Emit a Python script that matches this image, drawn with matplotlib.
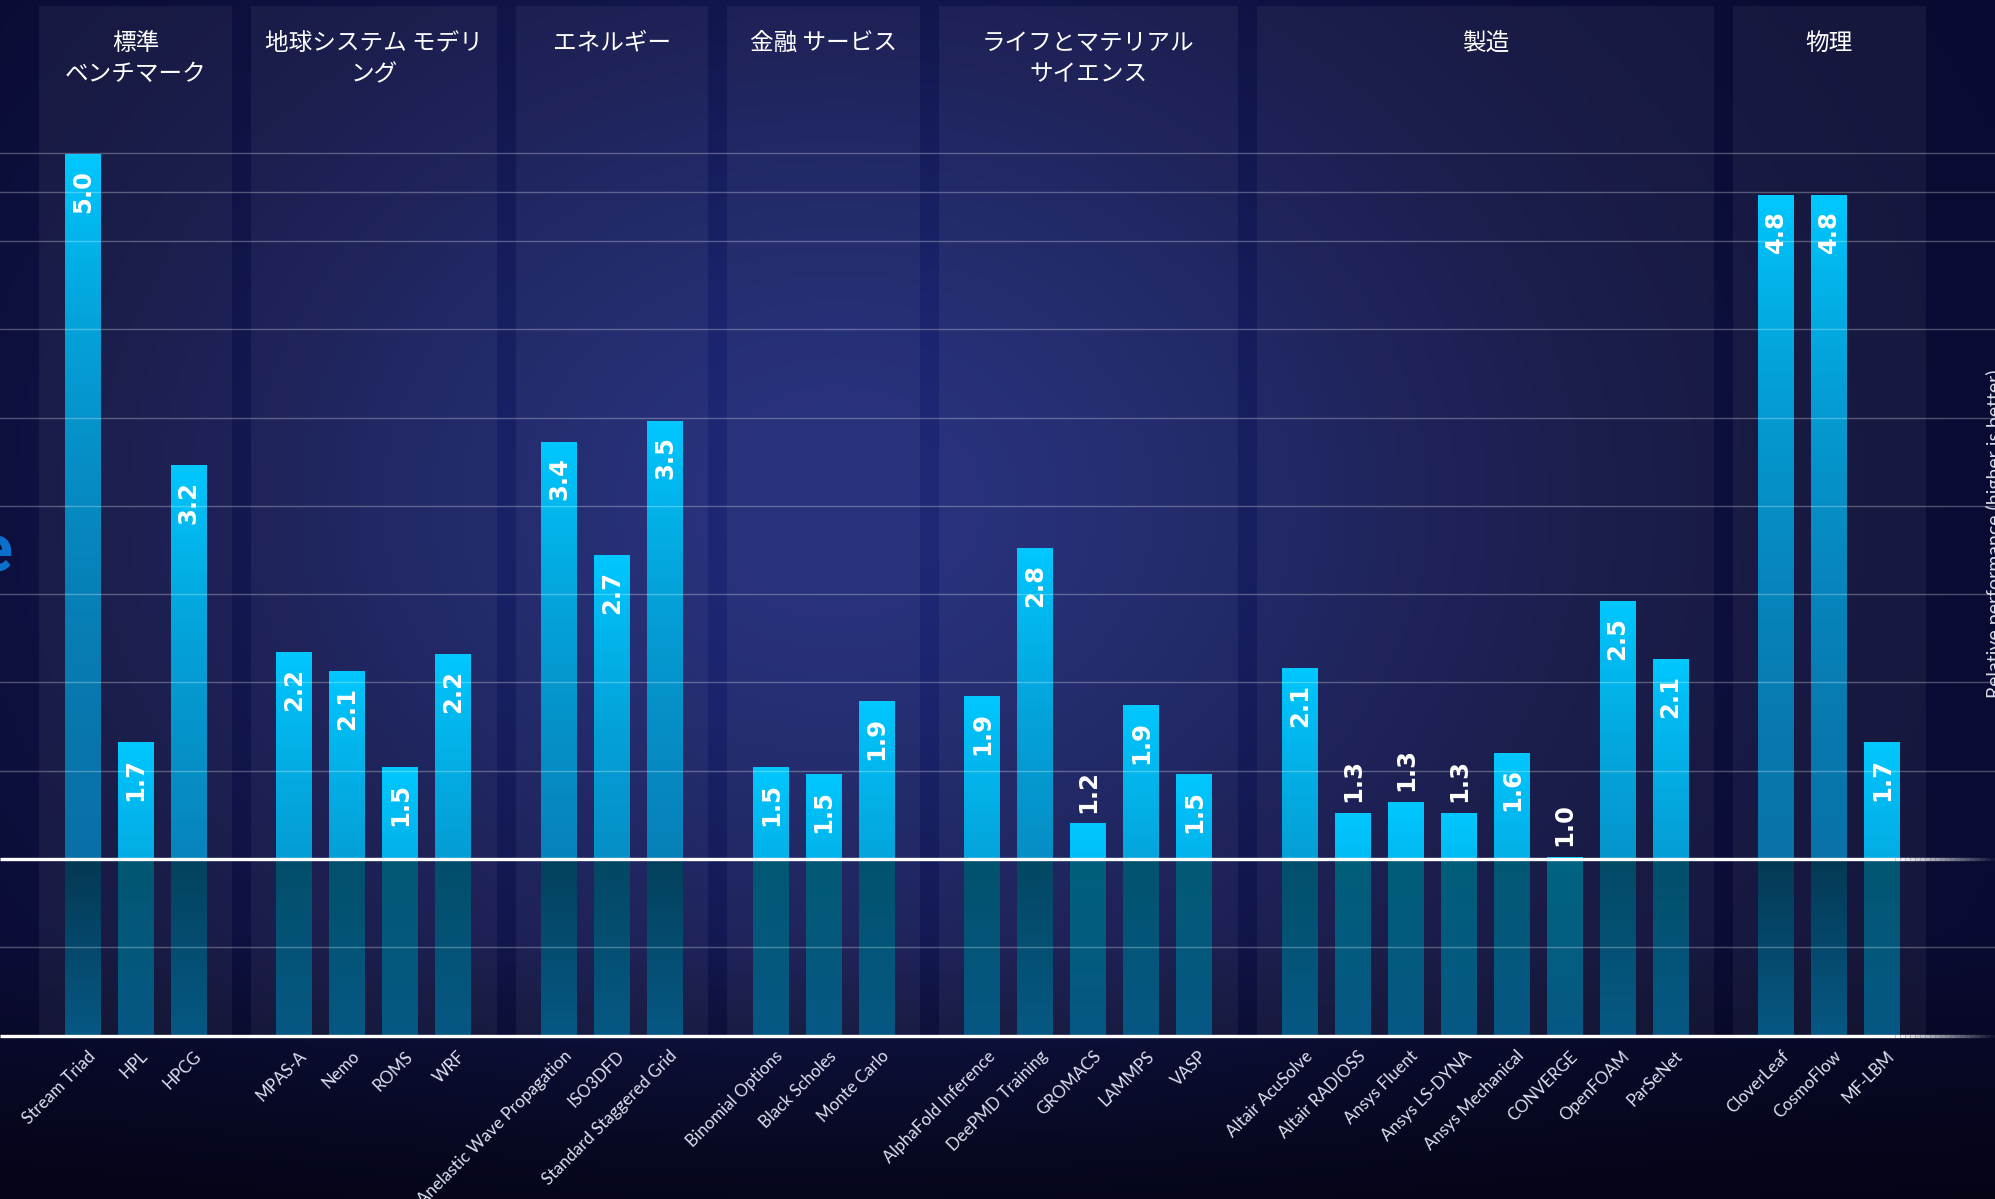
import numpy as np
import matplotlib.pyplot as plt
from matplotlib.patches import Rectangle

plt.rcParams['font.family'] = ['Noto Sans CJK JP', 'DejaVu Sans']

# categories (header of each panel) and how many apps each holds
groups = ['標準\nベンチマーク', '地球システム モデリ\nング', 'エネルギー', '金融 サービス',
          'ライフとマテリアル\nサイエンス', '製造', '物理']
group_sizes = [3, 4, 3, 3, 5, 8, 3]

apps = ['Stream Triad', 'HPL', 'HPCG',
        'MPAS-A', 'Nemo', 'ROMS', 'WRF',
        'Anelastic Wave Propagation', 'ISO3DFD', 'Standard Staggered Grid',
        'Binomial Options', 'Black Scholes', 'Monte Carlo',
        'AlphaFold Inference', 'DeePMD Training', 'GROMACS', 'LAMMPS', 'VASP',
        'Altair AcuSolve', 'Altair RADIOSS', 'Ansys Fluent', 'Ansys LS-DYNA',
        'Ansys Mechanical', 'CONVERGE', 'OpenFOAM', 'ParSeNet',
        'CloverLeaf', 'CosmoFlow', 'MF-LBM']

# relative performance
speedup = [4.99, 1.66, 3.23,
           2.17, 2.06, 1.52, 2.16,
           3.36, 2.72, 3.48,
           1.52, 1.48, 1.89,
           1.92, 2.76, 1.20, 1.87, 1.48,
           2.08, 1.26, 1.32, 1.26, 1.60, 1.01, 2.46, 2.13,
           4.76, 4.76, 1.66]
value_labels = [f'{v:.1f}' for v in speedup]

grid_levels = [0.5, 1.5, 2.0, 2.5, 3.0, 3.5, 4.0, 4.5, 4.78, 5.0]
axis_title = 'Relative performance (higher is better)'

# slot positions, one empty slot between groups
xpos = []
start = 0
for n in group_sizes:
    xpos += list(range(start, start + n))
    start += n + 1

fig = plt.figure(figsize=(19.95, 11.99), dpi=100)
ax = fig.add_axes([0, 0, 1, 1])
xmin, xmax, ymin, ymax = -1.5625, 36.13, -0.925, 5.865
ax.set_xlim(xmin, xmax)
ax.set_ylim(ymin, ymax)
ax.axis('off')

# dark navy background with a soft blue glow in the middle
H, W = 300, 500
yy, xx = np.mgrid[0:1:H * 1j, 0:1:W * 1j]
edge = np.array([9, 10, 48]) / 255
center = np.array([30, 40, 118]) / 255
w = np.exp(-((xx - 0.42) / 0.34) ** 2 - ((yy - 0.42) / 0.45) ** 2)
bg = edge + (center - edge) * w[..., None]
dark = np.clip((yy - 0.78) / 0.22, 0, 1)[..., None]
bg = bg * (1 - 0.55 * dark)
ax.imshow(bg, extent=(xmin, xmax, ymin, ymax), aspect='auto', origin='upper', zorder=0)

# category panels
i = 0
for name, n in zip(groups, group_sizes):
    x0, x1 = xpos[i] - 0.82, xpos[i + n - 1] + 0.82
    ax.add_patch(Rectangle((x0, 0), x1 - x0, 5.83, facecolor='white', alpha=0.05,
                           edgecolor='none', zorder=1))
    ax.text((x0 + x1) / 2, 5.685, name, ha='center', va='top', fontsize=17,
            color='white', linespacing=1.45, zorder=6)
    i += n

# bars: bright gradient above 1.0, dim reflection below it
top_c = np.array([0, 200, 255]) / 255
far_c = np.array([10, 95, 150]) / 255
low_c = np.array([6, 88, 132]) / 255
bw = 0.34
for x, v in zip(xpos, speedup):
    d = np.linspace(0, v - 1, 100)
    f = np.exp(-d / 2.2)[:, None]
    upper = far_c + (top_c - far_c) * f
    ax.imshow(upper[:, None, :], extent=(x - bw, x + bw, 1, v), aspect='auto',
              origin='upper', zorder=3)
    c_line = upper[-1]
    t = np.linspace(0, 1, 100)[:, None]
    lower = c_line * 0.5 * (1 - t) + low_c * t
    ax.imshow(lower[:, None, :], extent=(x - bw, x + bw, 0, 1), aspect='auto',
              origin='upper', zorder=3)

for y in grid_levels:
    ax.axhline(y, color='white', alpha=0.28, lw=1.0, zorder=4)

# white reference lines at 0 and 1, fading out to the right
fade_x = np.linspace(34.25, xmax, 21)
for y in [0, 1]:
    ax.plot([xmin, 34.25], [y, y], color='white', lw=2.4, zorder=5, solid_capstyle='butt')
    for k in range(20):
        ax.plot(fade_x[k:k + 2], [y, y], color='white', lw=2.4, zorder=5,
                alpha=1 - k / 20, solid_capstyle='butt')

# value labels
for x, v, lab in zip(xpos, speedup, value_labels):
    if v >= 1.4:
        ax.annotate(lab, (x, v), xytext=(0, -11), textcoords='offset points',
                    rotation=90, ha='center', va='top', fontsize=17.5,
                    fontweight='bold', family='DejaVu Sans', color='white', zorder=6)
    else:
        ax.annotate(lab, (x, v), xytext=(0, 8), textcoords='offset points',
                    rotation=90, ha='center', va='bottom', fontsize=17.5,
                    fontweight='bold', family='DejaVu Sans', color='white', zorder=6)

# app names
for x, name in zip(xpos, apps):
    ax.text(x + 0.08, -0.07, name, rotation=45, rotation_mode='anchor', ha='right',
            va='top', fontsize=12.2, family='Lato', fontweight='normal',
            color='#dfe2f0', zorder=6)

fig.text(1986 / 1995, 1 - 534 / 1199, axis_title, rotation=90, ha='left', va='center',
         fontsize=14, family='Lato', fontweight='normal', color='#d8dae8')
fig.text(13 / 1995, 1 - 571 / 1199, 'e', ha='right', va='baseline', fontsize=48,
         fontweight='bold', family='Roboto', color='#0b6fcb')

fig.savefig('out.png', dpi=100)
